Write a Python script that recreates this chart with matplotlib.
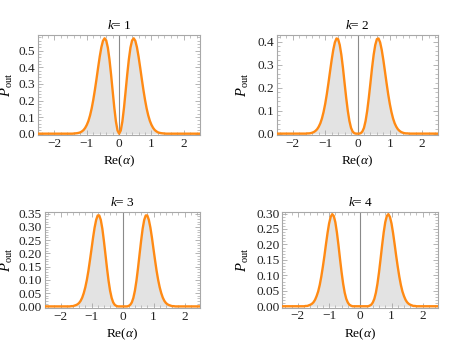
import matplotlib
matplotlib.use("Agg")
import matplotlib.pyplot as plt
from matplotlib.ticker import MultipleLocator, FormatStrFormatter

plt.rcParams['font.family'] = ['Liberation Serif', 'DejaVu Serif']
plt.rcParams['mathtext.fontset'] = 'custom'
plt.rcParams['mathtext.rm'] = 'Liberation Serif'
plt.rcParams['mathtext.it'] = 'Liberation Serif:italic'
plt.rcParams['mathtext.bf'] = 'Liberation Serif:bold'

# sample positions Re(alpha)
x_vals = [-2.5, -2.0, -1.8, -1.75, -1.7, -1.65, -1.6, -1.55, -1.5, -1.45, -1.4, -1.35,
          -1.3, -1.25, -1.2, -1.15, -1.1, -1.05, -1.0, -0.95, -0.9, -0.85, -0.8, -0.75,
          -0.7, -0.65, -0.6, -0.55, -0.5, -0.45, -0.4, -0.35, -0.3, -0.25, -0.2, -0.15,
          -0.1, -0.05, 0.0, 0.05, 0.1, 0.15, 0.2, 0.25, 0.3, 0.35, 0.4, 0.45, 0.5, 0.55,
          0.6, 0.65, 0.7, 0.75, 0.8, 0.85, 0.9, 0.95, 1.0, 1.05, 1.1, 1.15, 1.2, 1.25,
          1.3, 1.35, 1.4, 1.45, 1.5, 1.55, 1.6, 1.65, 1.7, 1.75, 1.8, 2.0, 2.5]

p_k1 = [0, 0, 0, 0, 0, 0, 0, 0, 0, 0.000, 0.001, 0.002, 0.003, 0.005, 0.008, 0.014,
        0.022, 0.035, 0.053, 0.077, 0.110, 0.152, 0.204, 0.264, 0.330, 0.399, 0.465,
        0.521, 0.560, 0.575, 0.562, 0.519, 0.448, 0.357, 0.256, 0.157, 0.074, 0.019,
        0.000,
        0.019, 0.074, 0.157, 0.256, 0.357, 0.448, 0.519, 0.562, 0.575, 0.560, 0.521,
        0.465, 0.399, 0.330, 0.264, 0.204, 0.152, 0.110, 0.077, 0.053, 0.035, 0.022,
        0.014, 0.008, 0.005, 0.003, 0.002, 0.001, 0.000, 0, 0, 0, 0, 0, 0, 0, 0, 0]

p_k2 = [0, 0, 0, 0, 0, 0, 0.000, 0.001, 0.001, 0.002, 0.004, 0.007, 0.012, 0.019,
        0.030, 0.045, 0.066, 0.094, 0.129, 0.171, 0.219, 0.270, 0.320, 0.364, 0.397,
        0.414, 0.411, 0.386, 0.343, 0.286, 0.220, 0.156, 0.099, 0.055, 0.025, 0.009,
        0.002, 0.000,
        0.000,
        0.000, 0.002, 0.009, 0.025, 0.055, 0.099, 0.156, 0.220, 0.286, 0.343, 0.386,
        0.411, 0.414, 0.397, 0.364, 0.320, 0.270, 0.219, 0.171, 0.129, 0.094, 0.066,
        0.045, 0.030, 0.019, 0.012, 0.007, 0.004, 0.002, 0.001, 0.001, 0.000, 0, 0, 0,
        0, 0, 0]

p_k3 = [0, 0, 0, 0, 0.000, 0.001, 0.001, 0.003, 0.005, 0.008, 0.013, 0.021, 0.033,
        0.050, 0.072, 0.100, 0.134, 0.174, 0.216, 0.259, 0.297, 0.326, 0.343, 0.343,
        0.326, 0.293, 0.247, 0.196, 0.144, 0.097, 0.059, 0.032, 0.015, 0.006, 0.002,
        0.000, 0, 0,
        0,
        0, 0, 0.000, 0.002, 0.006, 0.015, 0.032, 0.059, 0.097, 0.144, 0.196, 0.247,
        0.293, 0.326, 0.343, 0.343, 0.326, 0.297, 0.259, 0.216, 0.174, 0.134, 0.100,
        0.072, 0.050, 0.033, 0.021, 0.013, 0.008, 0.005, 0.003, 0.001, 0.001, 0.000,
        0, 0, 0, 0]

p_k4 = [0, 0, 0.000, 0.001, 0.001, 0.003, 0.005, 0.008, 0.013, 0.021, 0.033, 0.048,
        0.069, 0.096, 0.128, 0.163, 0.201, 0.237, 0.268, 0.289, 0.298, 0.292, 0.272,
        0.239, 0.198, 0.153, 0.110, 0.073, 0.044, 0.024, 0.012, 0.005, 0.002, 0.000,
        0.000, 0, 0, 0,
        0,
        0, 0, 0, 0.000, 0.000, 0.002, 0.005, 0.012, 0.024, 0.044, 0.073, 0.110, 0.153,
        0.198, 0.239, 0.272, 0.292, 0.298, 0.289, 0.268, 0.237, 0.201, 0.163, 0.128,
        0.096, 0.069, 0.048, 0.033, 0.021, 0.013, 0.008, 0.005, 0.003, 0.001, 0.001,
        0.000, 0, 0]

k_labels = [1, 2, 3, 4]
series = [p_k1, p_k2, p_k3, p_k4]
x_ticks = [-2, -1, 0, 1, 2]

for s in series:
    assert len(s) == len(x_vals), len(s)

W, H = 458, 346
fig = plt.figure(figsize=(W / 100, H / 100), dpi=100)

# [left, top, right, bottom] in pixels
boxes = [(38.3, 35, 200, 135), (276.7, 35, 438.3, 135),
         (45, 212, 200, 308), (282.3, 212, 438.3, 307.5)]
ylims = [(-0.008, 0.595), (-0.006, 0.429), (-0.006, 0.356), (-0.004, 0.305)]
ymajor = [0.1, 0.1, 0.05, 0.05]
yfmt = ['%.1f', '%.1f', '%.2f', '%.2f']
ylab_x = [-0.142, -0.159, -0.192, -0.200]

orange = '#ff8a14'
frame_c = '#a8a8a8'
fs = 9.6

for i, (k, ys) in enumerate(zip(k_labels, series)):
    l, t, r, b = boxes[i]
    ax = fig.add_axes([l / W, 1 - b / H, (r - l) / W, (b - t) / H])
    ax.fill_between(x_vals, ys, 0, color='#e3e3e3', lw=0, zorder=1)
    ax.axvline(0, color='#8a8a8a', lw=0.8, zorder=2)
    ax.plot(x_vals, ys, color=orange, lw=1.7, zorder=3, solid_joinstyle='round')
    ax.set_xlim(-2.5, 2.5)
    ax.set_ylim(*ylims[i])
    ax.xaxis.set_major_locator(MultipleLocator(1))
    ax.xaxis.set_minor_locator(MultipleLocator(0.2))
    ax.set_xticks(x_ticks)
    ax.yaxis.set_major_locator(MultipleLocator(ymajor[i]))
    ax.yaxis.set_minor_locator(MultipleLocator(ymajor[i] / 5))
    ax.yaxis.set_major_formatter(FormatStrFormatter(yfmt[i]))
    for sp in ax.spines.values():
        sp.set_color(frame_c)
        sp.set_linewidth(0.8)
    ax.tick_params(which='both', direction='in', top=True, right=True,
                   color=frame_c, labelsize=fs, labelcolor='#222222', pad=2)
    ax.tick_params(which='major', length=3.5, width=0.6)
    ax.tick_params(which='minor', length=2, width=0.5)
    ax.set_title(r'$k$= %d' % k, fontsize=fs, pad=4)
    ax.set_xlabel(r'Re($\alpha$)', fontsize=fs, labelpad=3)
    ax.set_ylabel(r'$P_{\mathrm{out}}$', fontsize=10.5)
    ax.yaxis.set_label_coords(ylab_x[i], 0.5)

fig.savefig('out.png', dpi=100)
